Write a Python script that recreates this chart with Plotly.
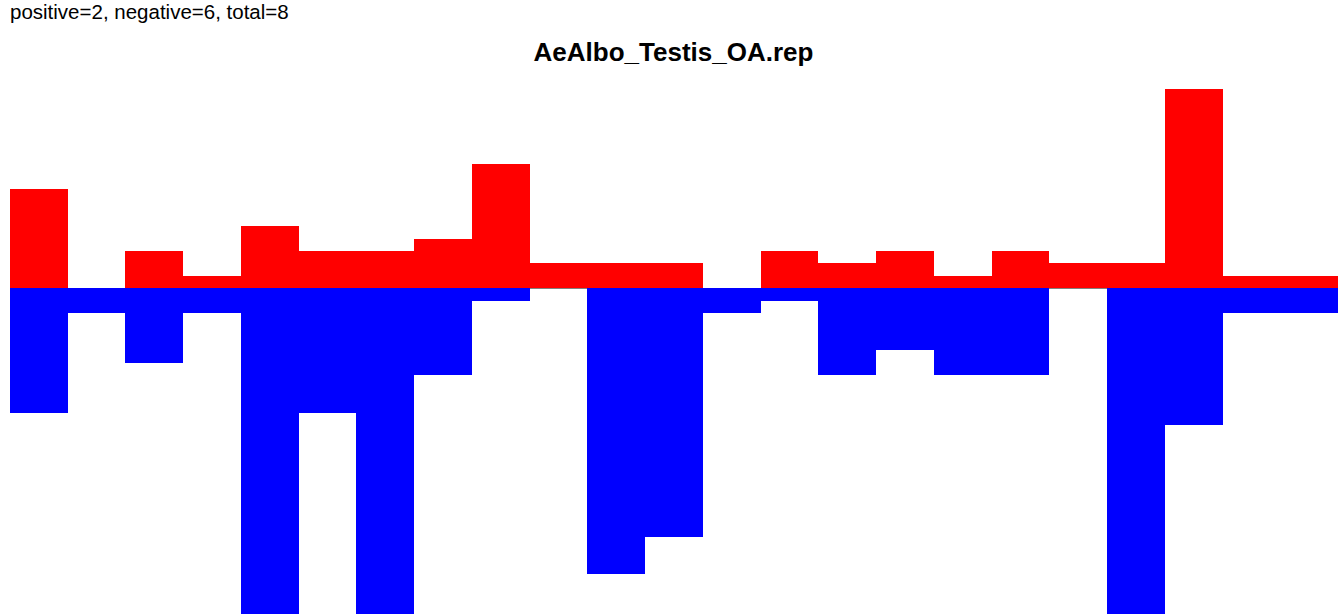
import plotly.graph_objects as go

positions = list(range(1, 24))
positive_counts = [8, 0, 3, 1, 5, 3, 3, 4, 10, 2, 2, 2, 0, 3, 2, 3, 1, 3, 2, 2, 16, 1, 1]
negative_counts = [-10, -2, -6, -2, -28, -10, -28, -7, -1, 0, -23, -20, -2, -1, -7, -5, -7, -7, 0, -28, -11, -2, -2]
title_text = "AeAlbo_Testis_OA.rep"
summary_text = "positive=2, negative=6, total=8"

fig = go.Figure()
fig.add_trace(go.Bar(x=positions, y=positive_counts, marker=dict(color="#ff0000", line=dict(width=0)),
                     width=1, showlegend=False))
fig.add_trace(go.Bar(x=positions, y=negative_counts, marker=dict(color="#0000ff", line=dict(width=0)),
                     width=1, showlegend=False))

fig.update_layout(
    width=1342, height=614,
    barmode="relative", bargap=0,
    plot_bgcolor="white", paper_bgcolor="white",
    margin=dict(l=10, r=4, t=80, b=0),
    font=dict(family="Liberation Sans, Arial, sans-serif", color="black"),
    title=dict(text="<b>" + title_text + "</b>", x=673.5 / 1342, xanchor="center", y=1 - 52 / 614,
               yanchor="middle", font=dict(size=26, color="black")),
    annotations=[dict(text=summary_text, xref="paper", yref="paper", x=-2 / 1328, y=1 + (80 - 11) / 534,
                      xanchor="left", yanchor="middle", showarrow=False, font=dict(size=20.5, color="black"))],
)
fig.update_xaxes(range=[0.5, 23.5], visible=False, showgrid=False, zeroline=False)
fig.update_yaxes(range=[-26.18, 16.74], showgrid=False, showticklabels=False, ticks="",
                 zeroline=True, zerolinecolor="#808080", zerolinewidth=1, showline=False)

fig.write_html("out.html", config={"displayModeBar": False},
               post_script="document.body.style.margin='0';document.body.style.overflow='hidden';")
